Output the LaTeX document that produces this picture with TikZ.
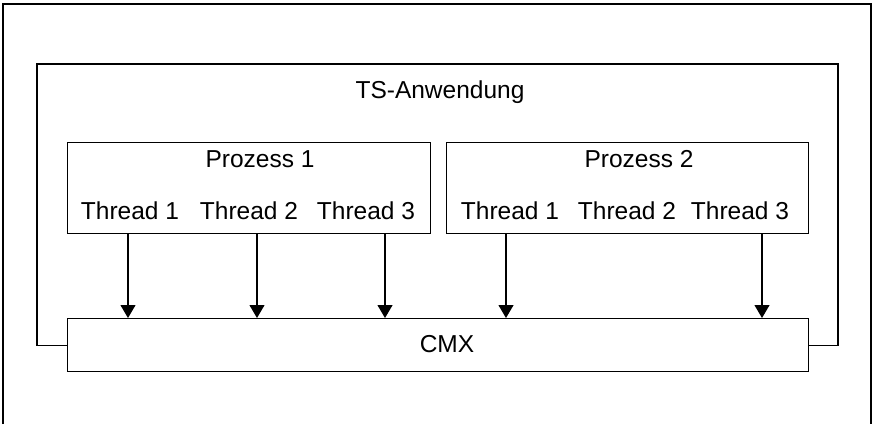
\documentclass[tikz,border=0pt]{standalone}
\usepackage{fontspec}
\setmainfont{Liberation Sans}
\usetikzlibrary{arrows.meta}
\begin{document}
\begin{tikzpicture}[x=1pt,y=-1pt,line width=1.4pt,
  box/.style={draw,rectangle,inner sep=0pt,anchor=north west},
  lbl/.style={anchor=base,inner sep=0pt,font=\fontsize{24.5}{28}\selectfont},
  arr/.style={-{Triangle[width=15pt,length=13pt]},line width=1.1pt}]
\useasboundingbox (0,0) rectangle (875,424);
% outer frame (open at the bottom)
\coordinate (fbl) at (3,424);
\coordinate (ftl) at (3,4);
\coordinate (ftr) at (871,4);
\coordinate (fbr) at (871,424);
\draw (fbl) -- (ftl) -- (ftr) -- (fbr);
% boxes
\node[box,minimum width=741pt,minimum height=53pt] (cmx) at (67,318) {};
\node[box,minimum width=363pt,minimum height=91pt] (p1) at (67,142) {};
\node[box,minimum width=362pt,minimum height=91pt] (p2) at (446,142) {};
% TS-Anwendung frame
\coordinate (tsw) at (37,64);
\coordinate (tse) at (838,64);
\draw (cmx.west) -| (tsw) -- (tse) |- (cmx.east);
% labels
\node[lbl] (ts) at (440,98) {TS-Anwendung};
\node[lbl] (p1l) at (260,167) {Prozess 1};
\node[lbl] (p2l) at (639,167) {Prozess 2};
\node[lbl] (t11) at (130,219) {Thread 1};
\node[lbl] (t12) at (249,219) {Thread 2};
\node[lbl] (t13) at (366,219) {Thread 3};
\node[lbl] (t21) at (510,219) {Thread 1};
\node[lbl] (t22) at (627,219) {Thread 2};
\node[lbl] (t23) at (740,219) {Thread 3};
\node[lbl] (cmxl) at (447,352) {CMX};
% arrows
\coordinate (a1) at (128,0);
\coordinate (a2) at (257,0);
\coordinate (a3) at (385,0);
\coordinate (a4) at (506,0);
\coordinate (a5) at (762,0);
\draw[arr] (a1 |- p1.south) -- (a1 |- cmx.north);
\draw[arr] (a2 |- p1.south) -- (a2 |- cmx.north);
\draw[arr] (a3 |- p1.south) -- (a3 |- cmx.north);
\draw[arr] (a4 |- p2.south) -- (a4 |- cmx.north);
\draw[arr] (a5 |- p2.south) -- (a5 |- cmx.north);
\end{tikzpicture}
\end{document}
